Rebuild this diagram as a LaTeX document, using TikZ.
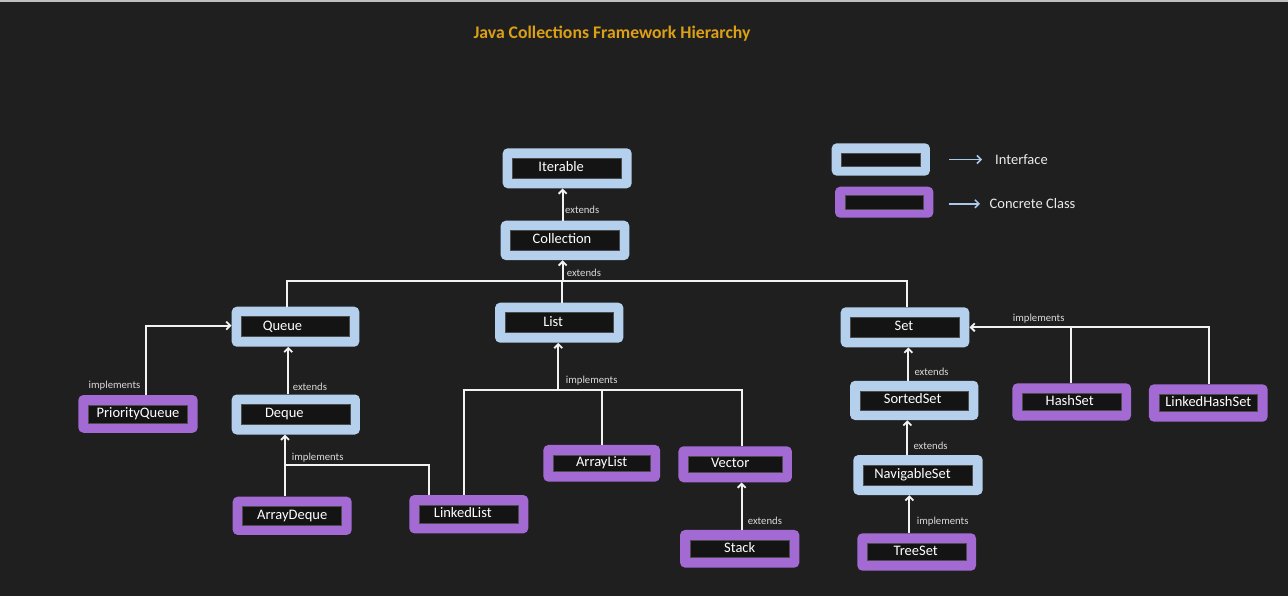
\documentclass[tikz,border=0pt]{standalone}
\usepackage{fontspec}
\setmainfont{Carlito}
\usetikzlibrary{arrows.meta,calc}
\definecolor{bg}{HTML}{1F1F1F}
\definecolor{ifacec}{HTML}{B4D0EC}
\definecolor{clsc}{HTML}{A46AD4}
\definecolor{titlec}{HTML}{DCA014}
\definecolor{innerc}{HTML}{141414}
\definecolor{legarrc}{HTML}{A9C8EA}
\definecolor{linec}{HTML}{F2F2F2}
\definecolor{lblc}{HTML}{DADADA}
\tikzset{
  iface/.style={rectangle, rounded corners=5pt, fill=ifacec, inner sep=0pt},
  cls/.style={rectangle, rounded corners=5pt, fill=clsc, inner sep=0pt},
  innerbox/.style={rectangle, fill=innerc, draw=black!70!white, line width=0.5pt, inner sep=0pt,
    text=white, font=\fontsize{14.5}{16}\selectfont, text height=10pt, text depth=3.2pt},
  conn/.style={draw=linec, line width=1.8pt},
  arr/.style={conn, -{Straight Barb[length=4pt,width=8pt]}},
  lbl/.style={inner sep=0pt, text=lblc, font=\fontsize{10.7}{12}\selectfont, text height=7.5pt, text depth=2.2pt},
  legtxt/.style={inner sep=0pt, text=white!92!black, font=\fontsize{14.5}{16}\selectfont},
  legarr/.style={draw=legarrc, line width=1.5pt, -{Straight Barb[length=4pt,width=8pt]}},
}
\newcommand\JCFbox[8]{%
  \node[#6, minimum width=#4pt, minimum height=#5pt] (#1) at (#2,#3) {};
  \node[innerbox, minimum width=#4pt-20pt, minimum height=#5pt-20pt] (#1-in) at (#2,#3) {#7\hspace*{#8pt}};
}
\begin{document}
\begin{tikzpicture}[x=1pt,y=-1pt]
\fill[bg] (0,0) rectangle (1288,596);
\useasboundingbox (0,0) rectangle (1288,596);
\fill[white!75!black] (0,0) rectangle (1288,2.5);

\node[font=\bfseries\fontsize{17.7}{20}\selectfont, text=titlec, inner sep=0pt] (title) at (612,33.5) {Java Collections Framework Hierarchy};

% interfaces
\JCFbox{Iterable}{567.2}{168.3}{129}{40}{iface}{Iterable}{12}
\JCFbox{Collection}{565}{240.4}{128.6}{39.3}{iface}{Collection}{6}
\JCFbox{Queue}{295.5}{326.7}{127.6}{40}{iface}{Queue}{26}
\JCFbox{List}{559.2}{322.7}{128.3}{40}{iface}{List}{12}
\JCFbox{Set}{905}{327.3}{128.6}{40}{iface}{Set}{2}
\JCFbox{Deque}{295.8}{414.5}{128.3}{40}{iface}{Deque}{23}
\JCFbox{SortedSet}{914.2}{400.4}{128.3}{39.3}{iface}{SortedSet}{3}
\JCFbox{NavigableSet}{918}{475}{129.4}{40}{iface}{NavigableSet}{11}
% classes
\JCFbox{PriorityQueue}{138}{413.9}{119.4}{37.7}{cls}{PriorityQueue}{0}
\JCFbox{HashSet}{1071.7}{402}{118.7}{37.4}{cls}{HashSet}{4}
\JCFbox{LinkedHashSet}{1208.3}{403}{118.7}{37.4}{cls}{LinkedHashSet}{0}
\JCFbox{ArrayList}{601.7}{463.3}{116.7}{36.7}{cls}{ArrayList}{0}
\JCFbox{Vector}{735.2}{464.3}{113.5}{36}{cls}{Vector}{10}
\JCFbox{ArrayDeque}{292.2}{515.8}{119}{38.3}{cls}{ArrayDeque}{0}
\JCFbox{LinkedList}{468.8}{514.2}{119}{38.3}{cls}{LinkedList}{12}
\JCFbox{Stack}{739.7}{548.8}{119.3}{37.7}{cls}{Stack}{0}
\JCFbox{TreeSet}{916.7}{552}{118.7}{37.4}{cls}{TreeSet}{2}
% legend
\JCFbox{LegI}{880.8}{159.5}{98.3}{32.4}{iface}{}{0}
\JCFbox{LegC}{884.2}{202.2}{98.3}{31}{cls}{}{0}
\node[legtxt, anchor=west] (LegItxt) at (995,160) {Interface};
\node[legtxt, anchor=west] (LegCtxt) at (989.5,203.8) {Concrete Class};
\draw[legarr] ([xshift=19.3pt]LegI.east |- LegI.east) -- ([xshift=-13pt]LegItxt.west |- LegI.east);
\draw[legarr] ([xshift=15pt]LegC.east |- LegCtxt.west) -- ([xshift=-9.5pt]LegCtxt.west);

% Collection bus
\coordinate (busQ) at (287,281);
\coordinate (busL) at (561.7,281);
\coordinate (busC) at (562.7,281);
\coordinate (busS) at (907.3,281);
\draw[conn] (Queue.north -| busQ) -- (busQ) -- (busS) -- (Set.north -| busS);
\draw[conn] (List.north -| busL) -- (busL);
\draw[arr] (busC) -- (Collection.south -| busC);
\draw[arr] (Collection.north -| busC) -- (Iterable.south -| busC);
\node[lbl, anchor=west] (l1) at (565,210.7) {extends};
\node[lbl, anchor=west] (l2) at (566.7,274) {extends};

% PriorityQueue -> Queue
\coordinate (pqB) at (146,325.7);
\draw[arr] (PriorityQueue.north -| pqB) -- (pqB) -- (Queue.west |- pqB);
\node[lbl] (l3) at (114.5,385.7) {implements};

% Deque -> Queue
\coordinate (dqX) at (288.3,380);
\draw[arr] (Deque.north -| dqX) -- (Queue.south -| dqX);
\node[lbl, anchor=west] (l4) at (292.7,388.3) {extends};

% ArrayDeque, LinkedList -> Deque
\coordinate (adJ) at (285,465);
\coordinate (llJ) at (429.3,465);
\draw[arr] (ArrayDeque.north -| adJ) -- (Deque.south -| adJ);
\draw[conn] (LinkedList.north -| llJ) -- (llJ) -- (adJ);
\node[lbl, anchor=west] (l5) at (291.7,457.7) {implements};

% List implementations
\coordinate (lbL) at (464,390);
\coordinate (lbA) at (558.3,390);
\coordinate (lbM) at (601.7,390);
\coordinate (lbR) at (742.3,390);
\draw[conn] (LinkedList.north -| lbL) -- (lbL) -- (lbR) -- (Vector.north -| lbR);
\draw[conn] (ArrayList.north -| lbM) -- (lbM);
\draw[arr] (lbA) -- (List.south -| lbA);
\node[lbl, anchor=west] (l6) at (565.7,380.7) {implements};

% Stack -> Vector
\coordinate (stX) at (741.7,500);
\draw[arr] (Stack.north -| stX) -- (Vector.south -| stX);
\node[lbl, anchor=west] (l7) at (747.7,522.3) {extends};

% Set hierarchy
\coordinate (ssX) at (908.3,360);
\coordinate (nsX) at (907.3,440);
\coordinate (tsX) at (909.3,510);
\draw[arr] (SortedSet.north -| ssX) -- (Set.south -| ssX);
\draw[arr] (NavigableSet.north -| nsX) -- (SortedSet.south -| nsX);
\draw[arr] (TreeSet.north -| tsX) -- (NavigableSet.south -| tsX);
\node[lbl, anchor=west] (l8) at (914.3,372.7) {extends};
\node[lbl, anchor=west] (l9) at (913.3,446.7) {extends};
\node[lbl, anchor=west] (l10) at (916.7,522.3) {implements};

% HashSet, LinkedHashSet -> Set
\coordinate (hsJ) at (1070.7,327.3);
\coordinate (lhJ) at (1209,327.3);
\draw[conn] (HashSet.north -| hsJ) -- (hsJ);
\draw[arr] (LinkedHashSet.north -| lhJ) -- (lhJ) -- (Set.east |- lhJ);
\node[lbl, anchor=west] (l11) at (1012.7,318.7) {implements};
\end{tikzpicture}
\end{document}
